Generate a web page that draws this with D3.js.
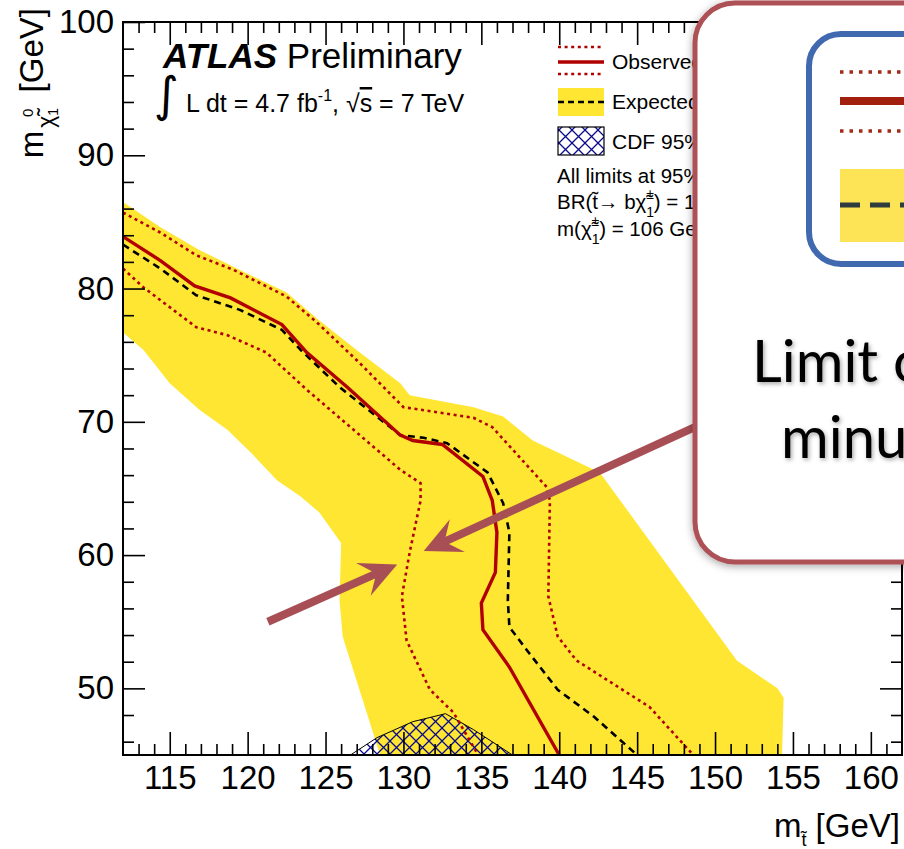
<!DOCTYPE html>
<html>
<head>
<meta charset="utf-8">
<script src="https://cdn.jsdelivr.net/npm/d3@7"></script>
<style>
  body { margin: 0; background: #fff; }
  svg { display: block; font-family: "Liberation Sans", Arial, Helvetica, sans-serif; }
</style>
</head>
<body>
<svg id="chart" width="904" height="849"></svg>
<script>
// [m(stop), m(neutralino)] in GeV
const expBandUpper = [[112,86.5],[114.4,84.6],[116.9,82.9],[119.5,81.4],[122.5,79.7],[124.6,77.6],[127.2,75.2],[129.8,72.9],[130.4,72.0],[134.5,71.1],[136.4,70.4],[138.3,68.6],[142.6,66.2],[151.4,52.1],[154.0,50.0],[154.4,49.3],[154.3,45]];
const expBandLower = [[112,76.7],[113.3,75.4],[115.0,72.9],[116.9,70.9],[118.7,69.4],[120.2,67.7],[121.9,65.6],[123.4,64.4],[124.6,63.2],[126.0,60.9],[125.9,56.6],[126.1,53.9],[128.5,45]];
const observed = [[112,83.9],[114.4,82.1],[116.6,80.2],[118.9,79.3],[122.2,77.3],[123.8,75.2],[126.4,72.6],[129.8,69.0],[130.6,68.6],[132.5,68.3],[135.1,65.9],[135.7,64.1],[136.0,61.7],[135.9,58.7],[135.0,56.4],[135.1,54.4],[136.8,51.6],[140.0,45]];
const observedUp = [[112,85.7],[114.4,84.2],[116.7,82.5],[119.1,81.4],[122.5,79.4],[124.5,77.4],[127.2,74.4],[130.0,71.1],[134.5,70.3],[135.7,69.6],[139.2,65.1],[139.4,64.1],[139.3,56.9],[139.9,53.9],[141.1,52.1],[145.8,48.6],[148.6,45]];
const observedDown = [[112,81.5],[113.3,80.1],[116.7,77.1],[118.7,76.5],[121.2,75.2],[123.8,72.4],[126.8,69.4],[129.8,66.4],[131.1,65.4],[131.1,64.1],[130.4,60.2],[129.9,56.9],[130.2,53.6],[131.7,49.9],[133.2,48.2],[134.5,45.6],[134.8,45]];
const expected = [[112,83.3],[114.4,81.5],[116.7,79.5],[119.5,78.4],[122.2,76.9],[123.4,75.4],[125.9,72.6],[129.8,69.0],[131.3,68.8],[132.8,68.4],[135.4,66.2],[136.4,63.9],[136.8,61.7],[136.7,56.6],[136.8,54.6],[137.9,52.9],[139.9,49.9],[142.2,47.9],[145.0,45]];
const cdfExcluded = [[126.6,45],[128.3,46.3],[130.6,47.5],[132.7,48.1],[134.5,46.9],[137.0,45]];

const xMajor = [115,120,125,130,135,140,145,150,155,160];
const yMajor = [50,60,70,80,90,100];

// annotation arrows: [tail, tip] in data coordinates
const arrows = [
  [[148.7,69.6],[131.3,60.3]],
  [[121.3,55.0],[129.6,59.3]]
];

const svg = d3.select("#chart");
const W = 904, H = 849;
const pLeft = 123, pRight = 902, pTop = 22, pBottom = 755;

const x = d3.scaleLinear().domain([112,162]).range([pLeft,pRight]);
const y = d3.scaleLinear().domain([45,100]).range([pBottom,pTop]);

const YELLOW = "#fee633";
const RED = "#b00000";
const HATCH = "#0b0b8c";

const defs = svg.append("defs");
defs.append("clipPath").attr("id","plotclip")
  .append("rect").attr("x",pLeft).attr("y",pTop).attr("width",pRight-pLeft).attr("height",pBottom-pTop);

const pat = defs.append("pattern").attr("id","hatch")
  .attr("patternUnits","userSpaceOnUse").attr("width",13).attr("height",13);
pat.append("path").attr("d","M0,0L13,13M13,0L0,13M-1,12L1,14M12,-1L14,1")
  .attr("stroke",HATCH).attr("stroke-width",1.3).attr("fill","none");

const shadow = defs.append("filter").attr("id","boxshadow")
  .attr("x","-10%").attr("y","-10%").attr("width","130%").attr("height","130%");
shadow.append("feDropShadow").attr("dx",0).attr("dy",2).attr("stdDeviation",4)
  .attr("flood-color","#000").attr("flood-opacity",0.35);
const tshadow = defs.append("filter").attr("id","textshadow")
  .attr("x","-10%").attr("y","-20%").attr("width","130%").attr("height","150%");
tshadow.append("feDropShadow").attr("dx",1.5).attr("dy",2).attr("stdDeviation",2)
  .attr("flood-color","#000").attr("flood-opacity",0.35);

svg.append("rect").attr("width",W).attr("height",H).attr("fill","#fff");

const line = d3.line().x(d => x(d[0])).y(d => y(d[1]));

const plot = svg.append("g").attr("clip-path","url(#plotclip)");

// expected +-1 sigma band
plot.append("path")
  .attr("d", line(expBandUpper.concat(expBandLower.slice().reverse())) + "Z")
  .attr("fill", YELLOW);

// CDF excluded region
plot.append("path")
  .attr("d", line(cdfExcluded) + "Z")
  .attr("fill","url(#hatch)")
  .attr("stroke","#000").attr("stroke-width",1);

plot.append("path").attr("d", line(expected))
  .attr("fill","none").attr("stroke","#000").attr("stroke-width",2.6)
  .attr("stroke-dasharray","7,5");

[observedUp, observedDown].forEach(s => {
  plot.append("path").attr("d", line(s))
    .attr("fill","none").attr("stroke",RED).attr("stroke-width",2.6)
    .attr("stroke-dasharray","3,3.6");
});

plot.append("path").attr("d", line(observed))
  .attr("fill","none").attr("stroke",RED).attr("stroke-width",3.4);

// axes
const xMinor = d3.range(113,162,1).filter(v => v % 5 !== 0);
const yMinor = d3.range(46,100,2).filter(v => v % 10 !== 0);

function styleAxis(g) {
  g.select(".domain").remove();
  g.selectAll("line").attr("stroke","#000").attr("stroke-width",1.6);
  g.selectAll("text").attr("fill","#000").style("font-size","33px")
    .style("font-family",'"Liberation Sans", Arial, Helvetica, sans-serif');
}

svg.append("g").attr("transform",`translate(0,${pBottom})`)
  .call(d3.axisBottom(x).tickValues(xMajor).tickSize(-23).tickPadding(11).tickFormat(d3.format("d")))
  .call(styleAxis);
svg.append("g").attr("transform",`translate(0,${pBottom})`)
  .call(d3.axisBottom(x).tickValues(xMinor).tickSize(-11).tickFormat(""))
  .call(styleAxis);
svg.append("g").attr("transform",`translate(0,${pTop})`)
  .call(d3.axisTop(x).tickValues(xMajor).tickSize(-23).tickFormat(""))
  .call(styleAxis);
svg.append("g").attr("transform",`translate(0,${pTop})`)
  .call(d3.axisTop(x).tickValues(xMinor).tickSize(-11).tickFormat(""))
  .call(styleAxis);
svg.append("g").attr("transform",`translate(${pLeft},0)`)
  .call(d3.axisLeft(y).tickValues(yMajor).tickSize(-22).tickPadding(9).tickFormat(d3.format("d")))
  .call(styleAxis);
svg.append("g").attr("transform",`translate(${pLeft},0)`)
  .call(d3.axisLeft(y).tickValues(yMinor).tickSize(-11).tickFormat(""))
  .call(styleAxis);
svg.append("g").attr("transform",`translate(${pRight},0)`)
  .call(d3.axisRight(y).tickValues(yMajor).tickSize(-22).tickFormat(""))
  .call(styleAxis);
svg.append("g").attr("transform",`translate(${pRight},0)`)
  .call(d3.axisRight(y).tickValues(yMinor).tickSize(-11).tickFormat(""))
  .call(styleAxis);

svg.append("rect").attr("x",pLeft).attr("y",pTop).attr("width",pRight-pLeft).attr("height",pBottom-pTop)
  .attr("fill","none").attr("stroke","#000").attr("stroke-width",2);

// axis titles
const yt = svg.append("text").attr("transform","translate(43,8) rotate(-90)")
  .attr("text-anchor","end").style("font-size","33px");
yt.append("tspan").text("m");
yt.append("tspan").attr("dx",3).attr("dy",11).style("font-size","23px").text("χ\u0303");
yt.append("tspan").attr("dy",4).style("font-size","14px").text("1");
yt.append("tspan").attr("dx",-9).attr("dy",-25).style("font-size","15px").text("0");
yt.append("tspan").attr("dx",7).attr("dy",10).style("font-size","33px").text(" [GeV]");

const xt = svg.append("text").attr("x",900).attr("y",837)
  .attr("text-anchor","end").style("font-size","33px");
xt.append("tspan").text("m");
xt.append("tspan").attr("dy",9).style("font-size","18px").text("t\u0303");
xt.append("tspan").attr("dy",-9).style("font-size","33px").text(" [GeV]");

// ATLAS label
const at = svg.append("text").attr("x",163).attr("y",68).style("font-size","35px");
at.append("tspan").style("font-weight","bold").style("font-style","italic").text("ATLAS");
at.append("tspan").text(" Preliminary");
svg.append("text").attr("x",154).attr("y",111).style("font-size","48px")
  .style("font-family",'"DejaVu Sans", sans-serif').text("∫");
const lum = svg.append("text").attr("x",186).attr("y",112).style("font-size","25px");
lum.append("tspan").text("L dt = 4.7 fb");
lum.append("tspan").attr("dy",-11).style("font-size","16px").text("-1");
lum.append("tspan").attr("dy",11).text(", √");
lum.append("tspan").style("text-decoration","overline").text("s");
lum.append("tspan").text(" = 7 TeV");

// legend (in-plot)
const lg = svg.append("g");
const lx0 = 558, lx1 = 604;
lg.append("line").attr("x1",lx0).attr("x2",lx1).attr("y1",47).attr("y2",47)
  .attr("stroke",RED).attr("stroke-width",2.6).attr("stroke-dasharray","3,3.6");
lg.append("line").attr("x1",lx0).attr("x2",lx1).attr("y1",62).attr("y2",62)
  .attr("stroke",RED).attr("stroke-width",3.4);
lg.append("line").attr("x1",lx0).attr("x2",lx1).attr("y1",74).attr("y2",74)
  .attr("stroke",RED).attr("stroke-width",2.6).attr("stroke-dasharray","3,3.6");
lg.append("rect").attr("x",lx0).attr("y",88).attr("width",lx1-lx0).attr("height",28).attr("fill",YELLOW);
lg.append("line").attr("x1",lx0).attr("x2",lx1).attr("y1",102).attr("y2",102)
  .attr("stroke","#000").attr("stroke-width",2.4).attr("stroke-dasharray","6,4");
lg.append("rect").attr("x",lx0).attr("y",127).attr("width",lx1-lx0).attr("height",28)
  .attr("fill","url(#hatch)").attr("stroke","#000").attr("stroke-width",1.2);
const legendText = [
  ["Observed limit (±1σ theory)", 612, 69],
  ["Expected limit (±1σ exp)", 612, 109],
  ["CDF 95% CL limit", 612, 149]
];
legendText.forEach(t => lg.append("text").attr("x",t[1]).attr("y",t[2]).style("font-size","21px").text(t[0]));
lg.append("text").attr("x",557).attr("y",183).style("font-size","20.5px").text("All limits at 95% CL");
const br = lg.append("text").attr("x",557).attr("y",209).style("font-size","20.5px");
br.append("tspan").text("BR(t\u0303→ bχ\u0303");
br.append("tspan").attr("dy",8).style("font-size","14px").text("1");
br.append("tspan").attr("dx",-8).attr("dy",-18).style("font-size","14px").text("±");
br.append("tspan").attr("dy",10).text(") = 100%");
const mc = lg.append("text").attr("x",557).attr("y",236).style("font-size","20.5px");
mc.append("tspan").text("m(χ\u0303");
mc.append("tspan").attr("dy",8).style("font-size","14px").text("1");
mc.append("tspan").attr("dx",-8).attr("dy",-18).style("font-size","14px").text("±");
mc.append("tspan").attr("dy",10).text(") = 106 GeV");

// arrows
const ARROW = "#a84f56";
function arrowPath(tail, tip) {
  const [x0,y0] = [x(tail[0]), y(tail[1])], [x1,y1] = [x(tip[0]), y(tip[1])];
  const len = Math.hypot(x1-x0, y1-y0), ux = (x1-x0)/len, uy = (y1-y0)/len;
  const nx = -uy, ny = ux, hl = 37, hw = 18, sw = 4, notch = 11;
  const p = (a,b) => [x1 - ux*a + nx*b, y1 - uy*a + ny*b];
  const pts = [[x0+nx*sw, y0+ny*sw], p(hl-notch, sw), p(hl, hw), [x1,y1], p(hl,-hw), p(hl-notch,-sw), [x0-nx*sw, y0-ny*sw]];
  return "M" + pts.map(q => q.join(",")).join("L") + "Z";
}
arrows.forEach(a => svg.append("path").attr("d", arrowPath(a[0], a[1])).attr("fill", ARROW));

// overlay callout box
const box = svg.append("g");
box.append("rect").attr("x",695).attr("y",3).attr("width",330).attr("height",559).attr("rx",40)
  .attr("fill","#fff").attr("stroke","#ad5157").attr("stroke-width",5).attr("filter","url(#boxshadow)");
box.append("rect").attr("x",809).attr("y",34).attr("width",260).attr("height",230).attr("rx",32)
  .attr("fill","#fff").attr("stroke","#4169b0").attr("stroke-width",6);
box.append("line").attr("x1",840).attr("x2",904).attr("y1",72).attr("y2",72)
  .attr("stroke","#a32a17").attr("stroke-width",3.5).attr("stroke-dasharray","3.5,6");
box.append("line").attr("x1",840).attr("x2",904).attr("y1",101).attr("y2",101)
  .attr("stroke","#a3200f").attr("stroke-width",8);
box.append("line").attr("x1",840).attr("x2",904).attr("y1",131).attr("y2",131)
  .attr("stroke","#a32a17").attr("stroke-width",3.5).attr("stroke-dasharray","3.5,6");
box.append("rect").attr("x",840).attr("y",169).attr("width",70).attr("height",73).attr("fill","#fde356");
box.append("line").attr("x1",840).attr("x2",904).attr("y1",205).attr("y2",205)
  .attr("stroke","#2f3b3d").attr("stroke-width",5).attr("stroke-dasharray","20,10");
box.append("text").attr("x",752).attr("y",382).attr("filter","url(#textshadow)")
  .style("font-family","Lato, sans-serif").style("font-size","58px").text("Limit on observed");
box.append("text").attr("x",781).attr("y",458).attr("filter","url(#textshadow)")
  .style("font-family","Lato, sans-serif").style("font-size","58px").text("minus 1σ theory");
</script>
</body>
</html>
